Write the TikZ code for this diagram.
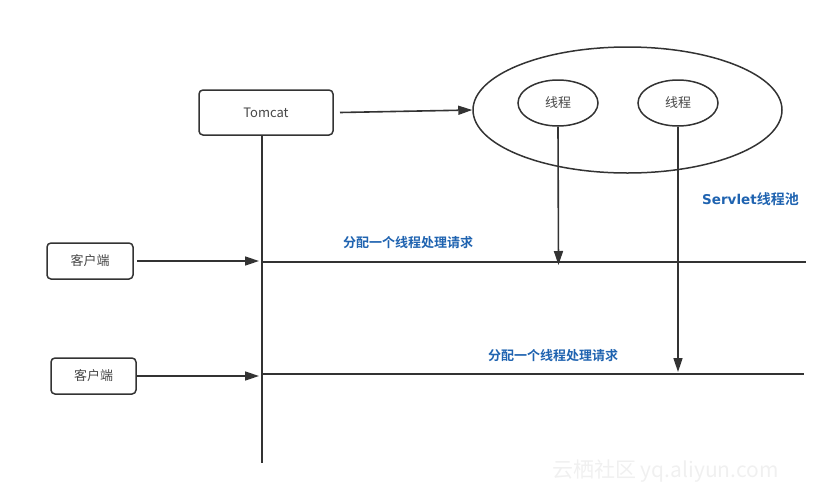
\documentclass[tikz,border=0pt]{standalone}
\usepackage{fontspec}
\setmainfont{Noto Sans CJK SC}
\newfontfamily\cjkb{Noto Sans CJK SC Bold}
\newfontfamily\latb{DejaVu Sans Bold}
\usetikzlibrary{arrows.meta,shapes.geometric}
\definecolor{ln}{HTML}{333333}
\definecolor{lblue}{HTML}{1F63B0}
\tikzset{
  box/.style={draw=ln,line width=1.5pt,rounded corners=4pt,inner sep=0pt,font=\fontsize{13}{15}\selectfont,text=ln!90},
  ell/.style={draw=ln,line width=1.5pt,ellipse,inner sep=0pt},
  ln/.style={draw=ln,line width=1.6pt},
  arr/.style={ln,-{Triangle[length=14pt,width=9pt]}},
  lbl/.style={text=lblue,font=\cjkb\fontsize{13}{15}\selectfont,inner sep=0pt}
}
\begin{document}
\begin{tikzpicture}[x=1pt,y=-1pt]
\useasboundingbox (0,0) rectangle (838,496);
% Tomcat
\node[box,minimum width=134pt,minimum height=45pt] (tomcat) at (266,112.5) {Tomcat};
% pool
\node[ell,minimum width=309pt,minimum height=126pt] (pool) at (627.5,110) {};
\node[ell,minimum width=80pt,minimum height=46pt,font=\fontsize{13}{15}\selectfont,text=ln!90] (t1) at (558,103) {线程};
\node[ell,minimum width=80pt,minimum height=46pt,font=\fontsize{13}{15}\selectfont,text=ln!90] (t2) at (678,103) {线程};
\coordinate (ta) at (340,112.5);
\draw[arr] (ta) -- (pool.west);
% clients
\node[box,minimum width=86pt,minimum height=36pt] (c1) at (90,261) {客户端};
\node[box,minimum width=85pt,minimum height=36pt] (c2) at (93.5,376) {客户端};
% lifeline
\coordinate (lifeTop) at (262,135);
\coordinate (lifeBot) at (262,463);
\draw[ln] (lifeTop) -- (lifeBot);
\coordinate (h1a) at (262,262);
\coordinate (h1b) at (806,262);
\coordinate (h2a) at (262,374);
\coordinate (h2b) at (804,374);
\draw[ln] (h1a) -- (h1b);
\draw[ln] (h2a) -- (h2b);
\coordinate (a1) at (259,261);
\coordinate (a2) at (259,376);
\coordinate (c1e) at (137,261);
\draw[arr] (c1e) -- (a1);
\draw[arr] (c2.east) -- (a2);
% thread arrows
\coordinate (d1) at (558.5,265);
\coordinate (d2) at (678,372);
\draw[arr] (t1.south) -- (d1);
\draw[arr] (t2.south) -- (d2);
% labels
\node[lbl,anchor=west] (l1) at (343,243) {分配一个线程处理请求};
\node[lbl,anchor=west] (l2) at (488,356) {分配一个线程处理请求};
\node[lbl,anchor=west,font=\cjkb\fontsize{14}{16}\selectfont] (l3) at (702,199) {{\latb\fontsize{13.5}{16}\selectfont Servlet}线程池};
% watermark
\node[anchor=west,text=black!6,font=\fontsize{21}{24}\selectfont,inner sep=0pt] (wm) at (552,471) {云栖社区 yq.aliyun.com};
\end{tikzpicture}
\end{document}
